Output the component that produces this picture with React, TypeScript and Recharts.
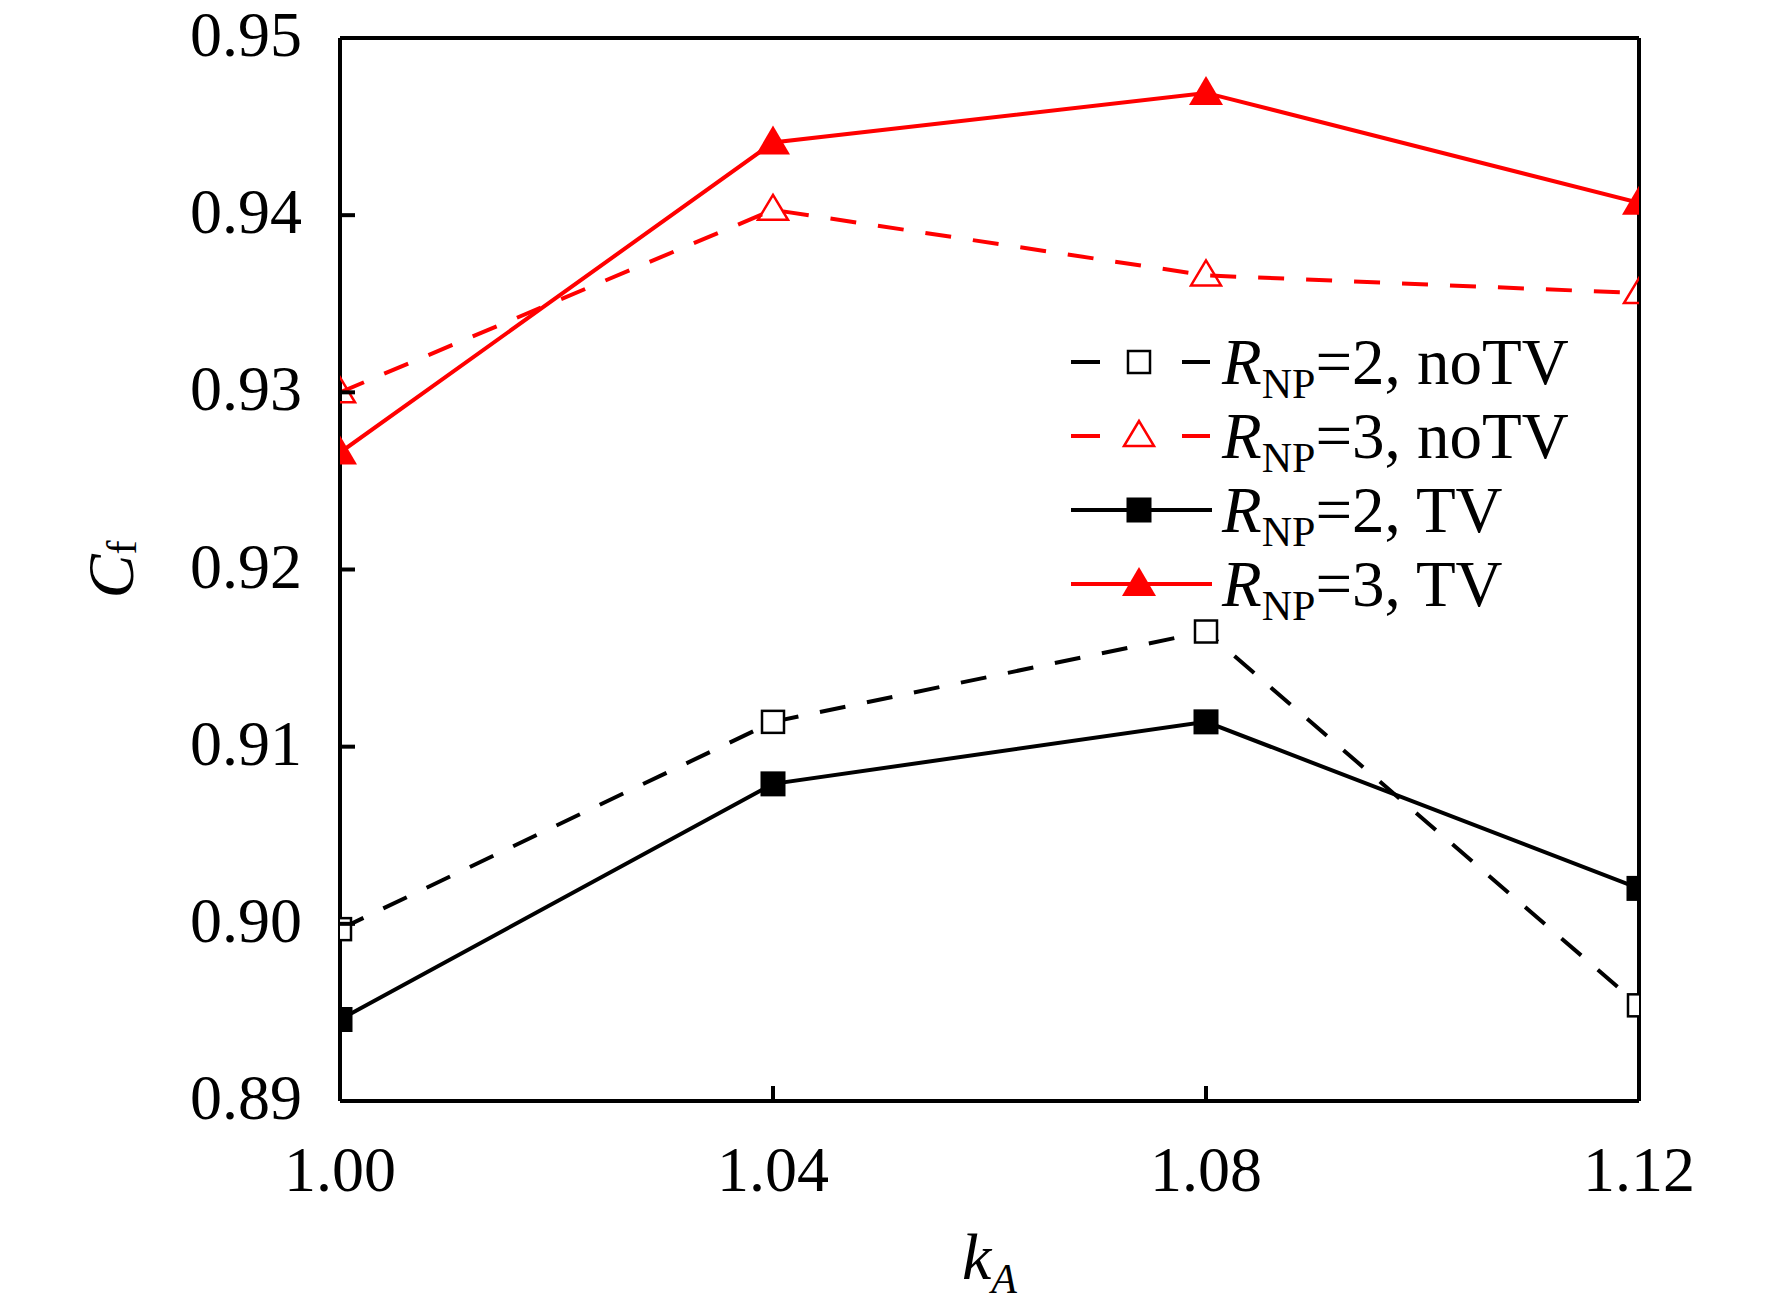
import React from "react";
import { LineChart, Line, XAxis, YAxis, Legend, ReferenceLine } from "recharts";

// k_A values on the x axis
const kA = [1.0, 1.04, 1.08, 1.12];
const xTicks = [1.0, 1.04, 1.08, 1.12];
const yTicks = [0.89, 0.9, 0.91, 0.92, 0.93, 0.94, 0.95];

// C_f
const np2NoTV = [0.8997, 0.9114, 0.9165, 0.8954];
const np3NoTV = [0.93, 0.9403, 0.9366, 0.9356];
const np2TV = [0.8946, 0.9079, 0.9114, 0.902];
const np3TV = [0.9266, 0.9441, 0.9469, 0.9407];

const RED = "#ff0000";
const BLACK = "#000000";
const FONT = '"Liberation Serif", "Times New Roman", serif';
const DASH = "26 22";

type Shape = "openSquare" | "openTriangle" | "square" | "triangle";

const series: { key: string; np: string; tv: string; color: string; dashed: boolean; shape: Shape }[] = [
  { key: "np2NoTV", np: "2", tv: "noTV", color: BLACK, dashed: true, shape: "openSquare" },
  { key: "np3NoTV", np: "3", tv: "noTV", color: RED, dashed: true, shape: "openTriangle" },
  { key: "np2TV", np: "2", tv: "TV", color: BLACK, dashed: false, shape: "square" },
  { key: "np3TV", np: "3", tv: "TV", color: RED, dashed: false, shape: "triangle" },
];

const rows = kA.map((k, i) => ({
  k,
  np2NoTV: np2NoTV[i],
  np3NoTV: np3NoTV[i],
  np2TV: np2TV[i],
  np3TV: np3TV[i],
}));

function Marker({ cx, cy, shape, color }: { cx: number; cy: number; shape: Shape; color: string }) {
  if (cx == null || cy == null) return null;
  if (shape === "square") {
    const s = 25;
    return <rect x={cx - s / 2} y={cy - s / 2} width={s} height={s} fill={color} />;
  }
  if (shape === "openSquare") {
    const s = 22;
    return <rect x={cx - s / 2} y={cy - s / 2} width={s} height={s} fill="#fff" stroke={color} strokeWidth={2.5} />;
  }
  if (shape === "triangle") {
    const w = 34, up = 17, dn = 12;
    return <polygon points={`${cx},${cy - up} ${cx - w / 2},${cy + dn} ${cx + w / 2},${cy + dn}`} fill={color} />;
  }
  const w = 30, up = 15, dn = 10;
  return (
    <polygon
      points={`${cx},${cy - up} ${cx - w / 2},${cy + dn} ${cx + w / 2},${cy + dn}`}
      fill="none"
      stroke={color}
      strokeWidth={2.5}
    />
  );
}

function YTick({ x, y, payload }: any) {
  return (
    <g>
      <line x1={x} x2={x + 15} y1={y} y2={y} stroke={BLACK} strokeWidth={4} />
      <text x={x - 38} y={y + 18} textAnchor="end" fontSize={64} fontFamily={FONT} fill={BLACK}>
        {Number(payload.value).toFixed(2)}
      </text>
    </g>
  );
}

function XTick({ x, y, payload }: any) {
  return (
    <g>
      <line x1={x} x2={x} y1={y} y2={y - 15} stroke={BLACK} strokeWidth={4} />
      <text x={x} y={y + 90} textAnchor="middle" fontSize={64} fontFamily={FONT} fill={BLACK}>
        {Number(payload.value).toFixed(2)}
      </text>
    </g>
  );
}

function renderLegend(props: any) {
  const keys = ((props.payload || []) as any[]).map((e) => e.dataKey);
  // keep the figure's own order, not the sorted payload
  const items = series.filter((s) => keys.length === 0 || keys.includes(s.key));
  const rowGap = 74;
  return (
    <svg width={560} height={300} style={{ display: "block", overflow: "visible" }}>
      {items.map((s, i) => {
        const cy = 42 + i * rowGap;
        return (
          <g key={s.key}>
            {s.dashed ? (
              <>
                <line x1={11} x2={40} y1={cy} y2={cy} stroke={s.color} strokeWidth={4} />
                <line x1={122} x2={150} y1={cy} y2={cy} stroke={s.color} strokeWidth={4} />
              </>
            ) : (
              <line x1={11} x2={152} y1={cy} y2={cy} stroke={s.color} strokeWidth={4} />
            )}
            <Marker cx={79} cy={cy} shape={s.shape} color={s.color} />
            <text x={162} y={cy + 22} fontSize={65} fontFamily={FONT} fill={BLACK}>
              <tspan fontStyle="italic">R</tspan>
              <tspan fontSize={42} dy={14}>NP</tspan>
              <tspan dy={-14}>{`=${s.np}, ${s.tv}`}</tspan>
            </text>
          </g>
        );
      })}
    </svg>
  );
}

function YLabel({ viewBox }: any) {
  const cx = viewBox.x - 130;
  const cy = viewBox.y + viewBox.height / 2;
  return (
    <text
      x={cx}
      y={cy}
      transform={`rotate(-90 ${cx} ${cy})`}
      textAnchor="middle"
      dominantBaseline="central"
      fontSize={66}
      fontFamily={FONT}
      fill={BLACK}
    >
      <tspan fontStyle="italic">C</tspan>
      <tspan fontSize={42} dy={12}>f</tspan>
    </text>
  );
}

function XLabel({ viewBox }: any) {
  const cx = viewBox.x + viewBox.width / 2;
  return (
    <text x={cx} y={viewBox.y + 178} textAnchor="middle" fontSize={66} fontFamily={FONT} fill={BLACK} fontStyle="italic">
      <tspan>k</tspan>
      <tspan fontSize={42} dy={14}>A</tspan>
    </text>
  );
}

export default function App() {
  return (
    <div style={{ position: "absolute", left: 0, top: 0, width: 1772, height: 1313, background: "#fff" }}>
      <LineChart width={1772} height={1313} data={rows} margin={{ top: 38, right: 133, bottom: 112, left: 240 }}>
        <XAxis
          dataKey="k"
          type="number"
          domain={[1.0, 1.12]}
          ticks={xTicks}
          allowDataOverflow
          height={100}
          tickSize={0}
          tickMargin={0}
          tickLine={false}
          tick={<XTick />}
          axisLine={{ stroke: BLACK, strokeWidth: 4 }}
          label={<XLabel />}
          interval={0}
        />
        <YAxis
          type="number"
          domain={[0.89, 0.95]}
          ticks={yTicks}
          allowDataOverflow
          width={100}
          tickSize={0}
          tickMargin={0}
          tickLine={false}
          tick={<YTick />}
          axisLine={{ stroke: BLACK, strokeWidth: 4 }}
          label={<YLabel />}
          interval={0}
        />
        <ReferenceLine y={0.95} stroke={BLACK} strokeWidth={4} />
        <ReferenceLine x={1.12} stroke={BLACK} strokeWidth={4} />
        {series.map((s) => (
          <Line
            key={s.key}
            dataKey={s.key}
            type="linear"
            stroke={s.color}
            strokeWidth={4}
            strokeDasharray={s.dashed ? DASH : undefined}
            dot={(p: any) => <Marker key={`${s.key}-${p.index}`} cx={p.cx} cy={p.cy} shape={s.shape} color={s.color} />}
            activeDot={false}
            isAnimationActive={false}
            legendType="line"
          />
        ))}
        <Legend
          layout="vertical"
          align="center"
          verticalAlign="middle"
          content={renderLegend}
          wrapperStyle={{ left: 1060, top: 320, width: 560, height: 300 }}
        />
      </LineChart>
    </div>
  );
}
